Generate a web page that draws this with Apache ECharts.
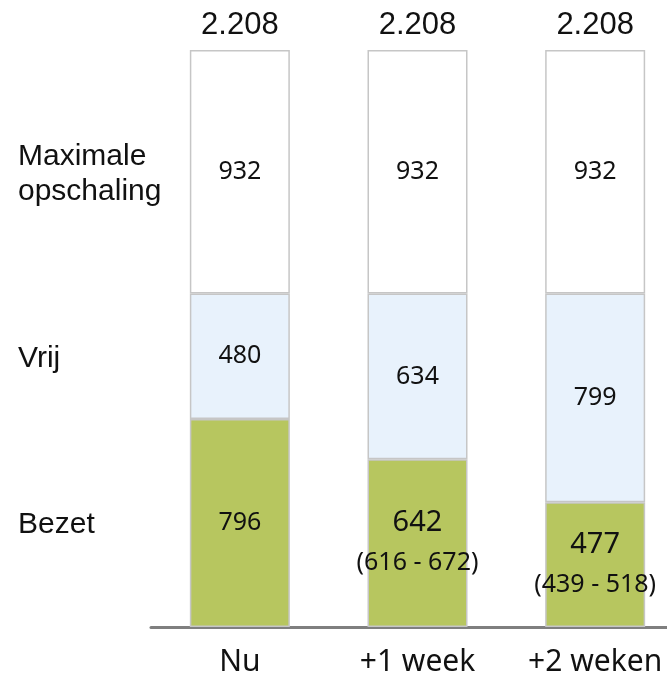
<!DOCTYPE html>
<html>
<head>
<meta charset="utf-8">
<script src="https://cdn.jsdelivr.net/npm/echarts@6/dist/echarts.min.js"></script>
<style>
  html, body { margin: 0; padding: 0; background: #fff; }
  #chart { width: 667px; height: 674px; }
</style>
</head>
<body>
<div id="chart"></div>
<script>
const categories = ['Nu', '+1 week', '+2 weken']
const seriesNames = ['Bezet', 'Vrij', 'Maximale\nopschaling']
const bezet = [796, 642, 477]
const bezetLow = [null, 616, 439]
const bezetHigh = [null, 672, 518]
const vrij = [480, 634, 799]
const maximaal = [932, 932, 932]

const totals = categories.map((c, i) => bezet[i] + vrij[i] + maximaal[i])
const fmt = v => v.toLocaleString('nl-NL')

const numFont = 'Noto Sans'
const border = '#c6c6c6'

const chart = echarts.init(document.getElementById('chart'))

const option = {
  animation: false,
  grid: { left: 151, right: -17, top: 50, bottom: 47, outerBoundsMode: 'none', containLabel: false },
  xAxis: {
    type: 'category',
    data: categories,
    axisTick: { show: false },
    axisLine: { lineStyle: { color: '#7f7f7f', width: 3 } },
    axisLabel: { color: '#111', fontSize: 30, fontFamily: numFont, margin: 20 }
  },
  yAxis: { type: 'value', min: 0, max: 2208, show: false, splitLine: { show: false } },
  series: [
    {
      name: seriesNames[0],
      type: 'bar',
      stack: 'totaal',
      barWidth: 100,
      data: bezet,
      itemStyle: { color: '#b7c65f', borderColor: border, borderWidth: 1.5 },
      label: {
        show: true,
        position: 'inside',
        color: '#111',
        fontFamily: numFont,
        formatter: p => {
          const i = p.dataIndex
          if (bezetLow[i] == null) return '{a|' + p.value + '}'
          return '{b|' + p.value + '}\n{c|(' + bezetLow[i] + ' - ' + bezetHigh[i] + ')}'
        },
        rich: {
          a: { fontSize: 25, fontFamily: numFont, color: '#111' },
          b: { fontSize: 29, fontFamily: numFont, color: '#111', lineHeight: 40 },
          c: { fontSize: 25, fontFamily: numFont, color: '#111', lineHeight: 40 }
        }
      }
    },
    {
      name: seriesNames[1],
      type: 'bar',
      stack: 'totaal',
      data: vrij,
      itemStyle: { color: '#e8f2fc', borderColor: border, borderWidth: 1.5 },
      label: { show: true, position: 'inside', color: '#111', fontSize: 25, fontFamily: numFont }
    },
    {
      name: seriesNames[2],
      type: 'bar',
      stack: 'totaal',
      data: maximaal,
      itemStyle: { color: '#ffffff', borderColor: border, borderWidth: 1.5 },
      label: { show: true, position: 'inside', color: '#111', fontSize: 25, fontFamily: numFont }
    },
    {
      // totals on top of each bar
      type: 'bar',
      stack: 'totaal',
      data: totals.map(() => 0),
      itemStyle: { color: 'transparent' },
      label: {
        show: true,
        position: 'top',
        distance: 9,
        color: '#111',
        fontSize: 31,
        fontFamily: 'Liberation Sans',
        formatter: p => fmt(totals[p.dataIndex])
      }
    }
  ]
}

chart.setOption(option)

// segment names on the left, aligned with the middle of each segment of the first bar
const stacks = [bezet, vrij, maximaal]
let base = 0
const texts = stacks.map((arr, k) => {
  const mid = base + arr[0] / 2
  base += arr[0]
  const y = chart.convertToPixel({ seriesIndex: 0 }, [0, mid])[1]
  return {
    type: 'text',
    x: 18,
    y: y + 2,
    style: {
      text: seriesNames[k],
      fill: '#111',
      fontSize: 30,
      fontFamily: 'Liberation Sans',
      lineHeight: 35,
      verticalAlign: 'middle'
    }
  }
})
chart.setOption({ graphic: texts })
</script>
</body>
</html>
